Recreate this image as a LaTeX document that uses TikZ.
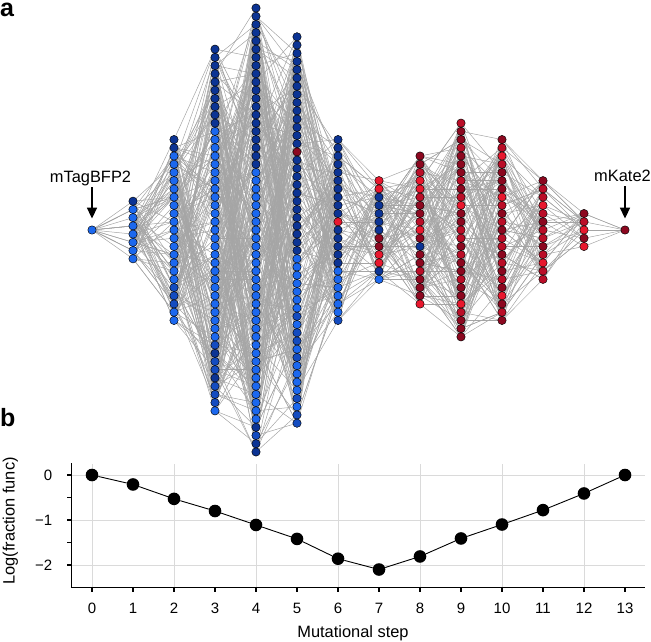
\documentclass[tikz,border=0pt]{standalone}
\usepackage{fontspec}
\setmainfont{Liberation Sans}
\usetikzlibrary{arrows.meta}
\pgfdeclarelayer{bg}
\pgfsetlayers{bg,main}
\definecolor{cL}{RGB}{28,104,238}
\definecolor{cM}{RGB}{20,76,192}
\definecolor{cD}{RGB}{12,52,148}
\definecolor{cR}{RGB}{232,24,46}
\definecolor{cQ}{RGB}{186,14,40}
\definecolor{cK}{RGB}{140,8,32}
\definecolor{edgegray}{RGB}{165,165,165}
\definecolor{gridgray}{RGB}{218,218,218}
\tikzset{
  nd/.style={circle, draw=black, line width=0.45pt, inner sep=0pt, minimum size=8.4pt},
  edge/.style={draw=edgegray, line width=0.5pt},
  lbl/.style={font=\fontsize{16.4}{19}\selectfont, inner sep=0pt},
  ticklbl/.style={font=\fontsize{15}{18}\selectfont, inner sep=0pt},
  panlbl/.style={font=\fontsize{25}{30}\selectfont\bfseries, inner sep=0pt},
  arr/.style={-{Triangle[length=11pt,width=10pt]}, line width=1.7pt, black},
  axisline/.style={line width=1.4pt, black},
  gridline/.style={line width=0.7pt, gridgray},
  dataline/.style={line width=0.9pt, black},
  datapt/.style={circle, fill=black, inner sep=0pt, minimum size=12.6pt}
}
\begin{document}
\begin{tikzpicture}[x=1pt,y=-1pt]
\useasboundingbox (0,0) rectangle (651,642);

% ---------- panel a: network nodes ----------
\foreach \k/\n/\cols in {
 0/1/{L},
 1/8/{D,L,L,L,L,L,L,L},
 2/23/{D,D,L,L,L,L,L,L,L,L,L,L,L,L,L,L,L,L,M,M,M,L,L},
 3/45/{D,D,D,D,D,D,D,D,D,D,L,L,L,L,L,L,L,L,L,L,L,L,L,L,L,L,L,L,L,L,L,L,L,L,L,L,M,D,M,M,D,M,M,M,L},
 4/55/{D,D,D,D,D,D,D,D,D,D,D,D,D,D,D,D,D,D,D,D,L,L,L,L,L,L,L,L,L,L,L,L,L,L,L,L,L,L,L,L,L,L,L,L,L,L,L,L,L,L,L,D,M,D,D},
 5/48/{D,D,D,D,D,D,D,D,D,D,D,D,D,D,K,D,D,D,D,D,D,D,D,D,D,D,D,L,L,L,L,L,L,L,M,L,M,M,L,M,L,L,L,L,M,L,M,M},
 6/23/{D,D,D,D,D,D,D,D,D,D,R,D,D,D,D,D,L,L,L,L,L,L,M},
 7/13/{R,R,D,D,D,D,D,K,K,R,R,D,L},
 8/19/{K,K,Q,R,R,Q,K,K,Q,R,K,D,K,K,Q,K,K,K,R},
 9/27/{Q,K,K,Q,K,K,K,Q,K,Q,R,K,K,Q,Q,K,Q,K,K,Q,K,K,R,Q,K,K,K},
 10/23/{K,Q,R,Q,K,K,K,R,Q,K,Q,K,Q,Q,K,Q,K,Q,K,R,K,Q,K},
 11/13/{K,Q,Q,R,Q,K,Q,Q,K,Q,R,Q,Q},
 12/5/{K,Q,R,K,R},
 13/1/{K}}{
  \foreach \c [count=\i] in \cols {
    \node[nd, fill=c\c] (n\k-\i) at ({92+41*\k},{230+(\i-(\n+1)/2)*8.22}) {};
  }
}

% ---------- panel a: edges ----------
\begin{pgfonlayer}{bg}
\pgfmathsetseed{7}
\foreach \k/\n/\m/\d in {0/1/8/8, 1/8/23/6, 2/23/45/5, 3/45/55/5, 4/55/48/4, 5/48/23/3, 6/23/13/3, 7/13/19/6, 8/19/27/6, 9/27/23/4, 10/23/13/3, 11/13/5/2, 12/5/1/1}{
  \pgfmathtruncatemacro{\kk}{\k+1}
  \foreach \i in {1,...,\n}{
    \foreach \r in {1,...,\d}{
      \pgfmathrandominteger{\j}{1}{\m}
      \draw[edge] (n\k-\i.center) -- (n\kk-\j.center);
    }
  }
  \foreach \j in {1,...,\m}{
    \pgfmathrandominteger{\ii}{1}{\n}
    \draw[edge] (n\k-\ii.center) -- (n\kk-\j.center);
  }
}
\end{pgfonlayer}

% ---------- panel a: labels ----------
\node[panlbl, anchor=base west] (la) at (0,16.5) {a};
\node[lbl, anchor=base] (lblA) at (90.5,182.5) {mTagBFP2};
\node[lbl, anchor=base] (lblB) at (622.5,181.5) {mKate2};
\draw[arr, shorten <=1pt, shorten >=7pt] (lblA.south -| n0-1.center) -- (n0-1.north);
\draw[arr, shorten <=4.5pt, shorten >=7pt] (lblB.south -| n13-1.center) -- (n13-1.north);

% ---------- panel b ----------
\node[panlbl, anchor=base west] (lb) at (0,426) {b};
\foreach \t in {0,2,...,12} \draw[gridline] ({92+41*\t},464) -- ({92+41*\t},587.5);
\foreach \v in {0,-1,-2} \draw[gridline] (71.5,{475-45*\v}) -- (645,{475-45*\v});
\draw[axisline] (71.5,463) -- (71.5,587.5);
\draw[axisline] (70.8,587.5) -- (645,587.5);
\foreach \v in {0,-0.5,-1,-1.5,-2} \draw[axisline] (67,{475-45*\v}) -- (71.5,{475-45*\v});
\foreach \t in {0,...,13} {
  \draw[axisline] ({92+41*\t},587.5) -- ({92+41*\t},592);
  \node[ticklbl, anchor=base] (xt\t) at ({92+41*\t},613) {\t};
}
\node[ticklbl, anchor=base east] (yt0) at (52.5,480.5) {0};
\node[ticklbl, anchor=base east] (yt1) at (52.5,525.5) {−1};
\node[ticklbl, anchor=base east] (yt2) at (52.5,570.5) {−2};
\node[lbl, anchor=base] (xlab) at (353,637.5) {Mutational step};
\node[lbl, rotate=90] (ylab) at (10.5,521) {Log(fraction func)};

\foreach \t/\v in {0/0, 1/-0.21, 2/-0.53, 3/-0.8, 4/-1.11, 5/-1.42, 6/-1.86, 7/-2.1, 8/-1.81, 9/-1.41, 10/-1.1, 11/-0.78, 12/-0.41, 13/0}{
  \node[datapt] (p\t) at ({92+41*\t},{475-45*\v}) {};
}
\draw[dataline] (p0) -- (p1) -- (p2) -- (p3) -- (p4) -- (p5) -- (p6) -- (p7) -- (p8) -- (p9) -- (p10) -- (p11) -- (p12) -- (p13);
\end{tikzpicture}
\end{document}
